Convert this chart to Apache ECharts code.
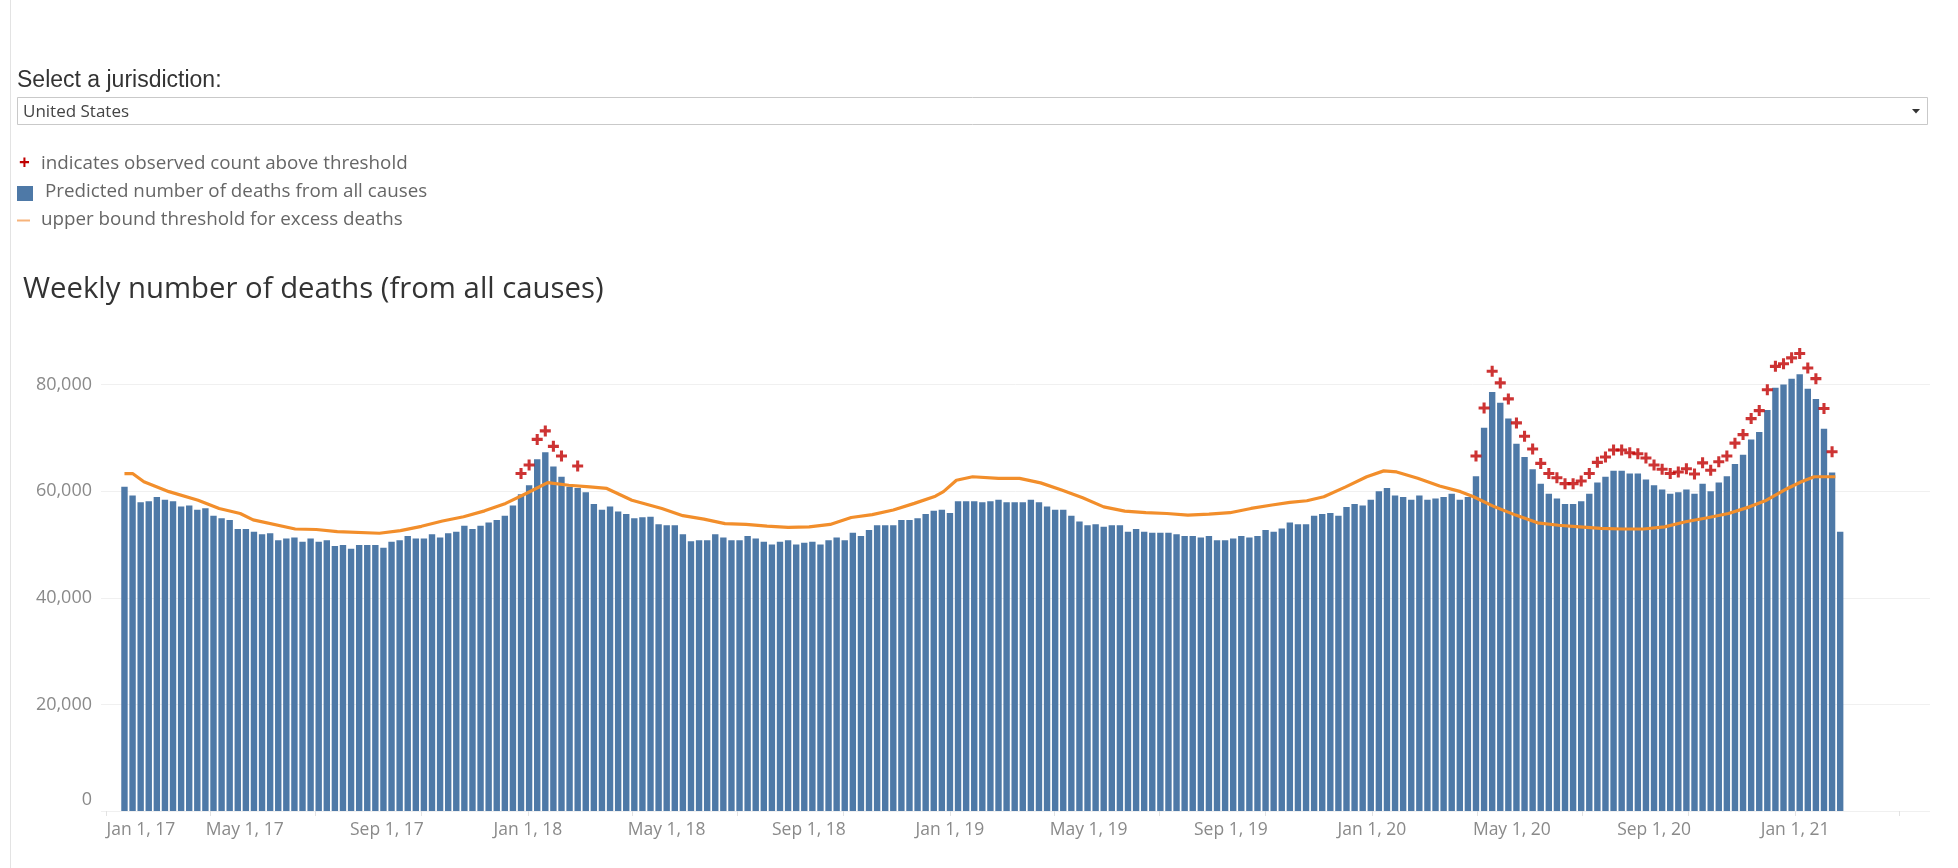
<!DOCTYPE html>
<html>
<head>
<meta charset="utf-8">
<script src="https://cdn.jsdelivr.net/npm/echarts@6/dist/echarts.min.js"></script>
<style>
	html, body { margin: 0; padding: 0; background: #fff; }
	#main { width: 1958px; height: 868px; }
</style>
</head>
<body>
<div id="main"></div>
<script>
	// position of the first weekly bar on the date axis
	const firstWeek = '2017-01-17';

	// predicted number of deaths, one value per week
	const predicted = [
		60800, 59200, 57900, 58100, 58900, 58400, 58100, 57100, 57300, 56500,
		56800, 55400, 54900, 54600, 52900, 52900, 52400, 51900, 52100, 50800,
		51100, 51300, 50500, 51100, 50500, 50800, 49700, 49900, 49200, 49900,
		49900, 49900, 49400, 50500, 50800, 51600, 51100, 51100, 51900, 51300,
		52100, 52400, 53500, 52900, 53500, 54100, 54600, 55400, 57300, 59400,
		61100, 66000, 67300, 64600, 62700, 60800, 60600, 59800, 57600, 56500,
		57100, 56200, 55700, 54900, 55100, 55200, 53800, 53600, 53600, 51900,
		50600, 50800, 50800, 51900, 51300, 50800, 50800, 51600, 51100, 50500,
		50000, 50500, 50800, 50000, 50300, 50500, 50000, 50800, 51300, 50800,
		52200, 51600, 52700, 53600, 53600, 53600, 54600, 54600, 54900, 55700,
		56300, 56500, 55900, 58100, 58100, 58100, 57900, 58100, 58400, 57900,
		57900, 57900, 58400, 57900, 57100, 56500, 56500, 55400, 54300, 53600,
		53800, 53300, 53600, 53600, 52400, 52900, 52400, 52200, 52200, 52200,
		51900, 51600, 51600, 51300, 51600, 50800, 50800, 51100, 51600, 51300,
		51600, 52700, 52400, 53000, 54100, 53800, 53800, 55400, 55700, 55900,
		55400, 57000, 57600, 57300, 58400, 60000, 60600, 59200, 58900, 58400,
		59200, 58400, 58600, 58900, 59500, 58400, 58900, 62800, 71900, 78600,
		76600, 73600, 68900, 66400, 64100, 61400, 59500, 58600, 57600, 57600,
		58100, 59500, 61600, 62700, 63800, 63800, 63300, 63300, 62200, 61100,
		60300, 59500, 59800, 60300, 59500, 61400, 60000, 61600, 62800, 65100,
		66800, 69700, 71100, 75200, 79400, 80000, 81100, 81900, 79200, 77300,
		71700, 63500, 52400
	];

	// weeks where the observed count was above the threshold
	const aboveWeeks = [
		49, 50, 51, 52, 53, 54, 56,
		167, 168, 169, 170, 171, 172, 173, 174, 175, 176, 177, 178, 179, 180,
		181, 182, 183, 184, 185, 186, 187, 188, 189, 190, 191, 192, 193, 194,
		195, 196, 197, 198, 199, 200, 201, 202, 203, 204, 205, 206, 207, 208,
		209, 210, 211
	];
	const aboveCounts = [
		63300, 64900, 69700, 71300, 68400, 66600, 64700,
		66600, 75600, 82500, 80300, 77300, 72800, 70300, 67900, 65200, 63300,
		62500, 61400, 61400, 61900, 63300, 65400, 66400, 67700, 67700, 67200,
		67000, 66200, 64900, 64100, 63300, 63600, 64200, 63200, 65300, 63900,
		65500, 66600, 69000, 70600, 73600, 75100, 79000, 83400, 83900, 85000,
		85800, 83100, 81100, 75500, 67400
	];

	// upper bound threshold, read at these week positions
	const thresholdWeeks = [
		0, 1, 2.4, 5.5, 9.1, 11.7, 14.3, 15.9, 21.1, 23.7,
		26.3, 31.5, 34.1, 36.7, 39.3, 41.9, 44.5, 47.1, 49.7, 52.3,
		54.9, 57.5, 59.6, 62.7, 66.4, 69, 71.6, 74.2, 76.8, 79.4,
		82, 84.6, 87.2, 89.8, 92.4, 95, 97.6, 100.2, 101.2, 102.8,
		104.8, 108, 110.6, 113.2, 115.8, 118.4, 121, 123.6, 126.2, 128.8,
		131.4, 134, 136.6, 139.2, 141.8, 144, 146.1, 148.2, 150.9, 153.5,
		155.6, 157.2, 159.8, 162.5, 165.1, 166.7, 169.3, 171.9, 174.6, 177.2,
		179.8, 182.4, 185.1, 187.7, 190.3, 192.9, 195.6, 198.2, 200.8, 202.9,
		205.1, 207.2, 208.8, 211.4
	];
	const thresholdValues = [
		63300, 63300, 61750, 59900, 58300, 56750, 55800, 54600, 52900, 52800,
		52400, 52100, 52600, 53400, 54400, 55200, 56300, 57700, 59600, 61600,
		61100, 60800, 60500, 58300, 56750, 55400, 54750, 53900, 53750, 53450,
		53200, 53300, 53750, 55050, 55600, 56450, 57700, 59050, 59900, 62050,
		62700, 62400, 62400, 61550, 60200, 58750, 57050, 56250, 55950, 55800,
		55500, 55700, 55950, 56750, 57400, 57900, 58200, 58950, 60800, 62700,
		63800, 63600, 62400, 60950, 59900, 58950, 57050, 55500, 54050, 53600,
		53300, 53000, 52900, 52900, 53300, 54250, 55000, 55800, 57050, 58300,
		60200, 61750, 62700, 62700
	];

	const labelDates = [
		'2017-01-01', '2017-05-01', '2017-09-01', '2018-01-01', '2018-05-01',
		'2018-09-01', '2019-01-01', '2019-05-01', '2019-09-01', '2020-01-01',
		'2020-05-01', '2020-09-01', '2021-01-01'
	];
	const labelText = [
		'Jan 1, 17', 'May 1, 17', 'Sep 1, 17', 'Jan 1, 18', 'May 1, 18',
		'Sep 1, 18', 'Jan 1, 19', 'May 1, 19', 'Sep 1, 19', 'Jan 1, 20',
		'May 1, 20', 'Sep 1, 20', 'Jan 1, 21'
	];
	const tickDates = [
		'2017-01-01', '2017-04-01', '2017-07-01', '2017-10-01',
		'2018-01-01', '2018-04-01', '2018-07-01', '2018-10-01',
		'2019-01-01', '2019-04-01', '2019-07-01', '2019-10-01',
		'2020-01-01', '2020-04-01', '2020-07-01', '2020-10-01',
		'2021-01-01', '2021-04-01'
	];

	function weekPos(d) {
		return (Date.parse(d) - Date.parse(firstWeek)) / (7 * 86400000);
	}

	let labelPos = labelDates.map(weekPos);
	let tickPos = tickDates.map(weekPos);

	let myChart = echarts.init(document.getElementById('main'));
	let uiFont = '"Liberation Sans", Arial, sans-serif';
	let bookFont = '"Open Sans", "Noto Sans", sans-serif';
	let axisGrey = '#8a8a8a';

	let option = {
		animation: false,
		backgroundColor: '#fff',
		graphic: [
			{ type: 'line', shape: { x1: 10.5, y1: 0, x2: 10.5, y2: 868 }, style: { stroke: '#e3e3e3', lineWidth: 1 } },
			{ type: 'text', x: 17, y: 81, style: { text: 'Select a jurisdiction:', font: '23px ' + uiFont, fill: '#333', verticalAlign: 'middle' } },
			{ type: 'rect', shape: { x: 17.5, y: 97.5, width: 1910, height: 27 }, style: { fill: '#fff', stroke: '#c9c9c9', lineWidth: 1 } },
			{ type: 'text', x: 23, y: 112, style: { text: 'United States', font: '17px ' + bookFont, fill: '#444', verticalAlign: 'middle' } },
			{ type: 'polygon', shape: { points: [[1912, 109], [1920, 109], [1916, 113.5]] }, style: { fill: '#333' } },
			{ type: 'text', x: 24.5, y: 164, style: { text: '+', font: 'bold 19px ' + bookFont, fill: '#c00000', align: 'center', verticalAlign: 'middle' } },
			{ type: 'text', x: 41, y: 164, style: { text: 'indicates observed count above threshold', font: '18.8px ' + bookFont, fill: '#666', verticalAlign: 'middle' } },
			{ type: 'rect', shape: { x: 17, y: 186, width: 16, height: 15 }, style: { fill: '#4e79a7' } },
			{ type: 'text', x: 45, y: 192, style: { text: 'Predicted number of deaths from all causes', font: '18.8px ' + bookFont, fill: '#666', verticalAlign: 'middle' } },
			{ type: 'line', shape: { x1: 17, y1: 220.5, x2: 30, y2: 220.5 }, style: { stroke: '#f7b37a', lineWidth: 2 } },
			{ type: 'text', x: 41, y: 220, style: { text: 'upper bound threshold for excess deaths', font: '18.8px ' + bookFont, fill: '#666', verticalAlign: 'middle' } },
			{ type: 'text', x: 23, y: 290, style: { text: 'Weekly number of deaths (from all causes)', font: '29.3px ' + bookFont, fill: '#333', verticalAlign: 'middle' } }
		],
		grid: {
			left: 101,
			right: 28,
			top: 384.5,
			bottom: 57
		},
		xAxis: {
			type: 'value',
			min: -2.9,
			max: 223.1,
			axisLine: { show: false },
			splitLine: { show: false },
			axisTick: {
				show: true,
				customValues: tickPos,
				length: 5,
				lineStyle: { color: '#e2e2e2' }
			},
			axisLabel: {
				customValues: labelPos,
				margin: 10,
				color: axisGrey,
				fontSize: 17.5,
				fontFamily: bookFont,
				formatter: function (val) {
					let k = 0;
					for (let i = 0; i < labelPos.length; i++) {
						if (Math.abs(labelPos[i] - val) < Math.abs(labelPos[k] - val)) k = i;
					}
					// first label is pushed right, as in the original
					return k === 0 ? '{first|' + labelText[k] + '}' : labelText[k];
				},
				rich: {
					first: { padding: [0, 0, 0, 70], fontSize: 17.5, color: axisGrey, fontFamily: bookFont }
				}
			}
		},
		yAxis: {
			type: 'value',
			min: 0,
			max: 80000,
			interval: 20000,
			axisLine: { show: false },
			axisTick: { show: false },
			splitLine: { lineStyle: { color: '#f0f0f0', width: 1 } },
			axisLabel: {
				margin: 9,
				color: axisGrey,
				fontSize: 18,
				fontFamily: bookFont,
				formatter: function (v) {
					return v === 0 ? '{zero|0}' : v.toLocaleString('en-US');
				},
				rich: {
					zero: { padding: [0, 0, 22, 0], fontSize: 18, color: axisGrey, fontFamily: bookFont }
				}
			}
		},
		series: [
			{
				name: 'Predicted number of deaths from all causes',
				type: 'bar',
				barWidth: 6.4,
				clip: false,
				itemStyle: { color: '#4e79a7' },
				data: predicted.map(function (v, i) { return [i, v]; })
			},
			{
				name: 'upper bound threshold for excess deaths',
				type: 'line',
				showSymbol: false,
				smooth: false,
				clip: false,
				lineStyle: { color: '#f28e2b', width: 3.2 },
				data: thresholdWeeks.map(function (w, i) { return [w, thresholdValues[i]]; }),
				z: 3
			},
			{
				name: 'observed count above threshold',
				type: 'scatter',
				clip: false,
				symbol: 'path://M3.6,0H6.4V3.6H10V6.4H6.4V10H3.6V6.4H0V3.6H3.6Z',
				symbolSize: 11,
				itemStyle: { color: '#c00000' },
				data: aboveWeeks.map(function (w, i) { return [w, aboveCounts[i]]; }),
				z: 4
			}
		]
	};

	option && myChart.setOption(option);
</script>
</body>
</html>
